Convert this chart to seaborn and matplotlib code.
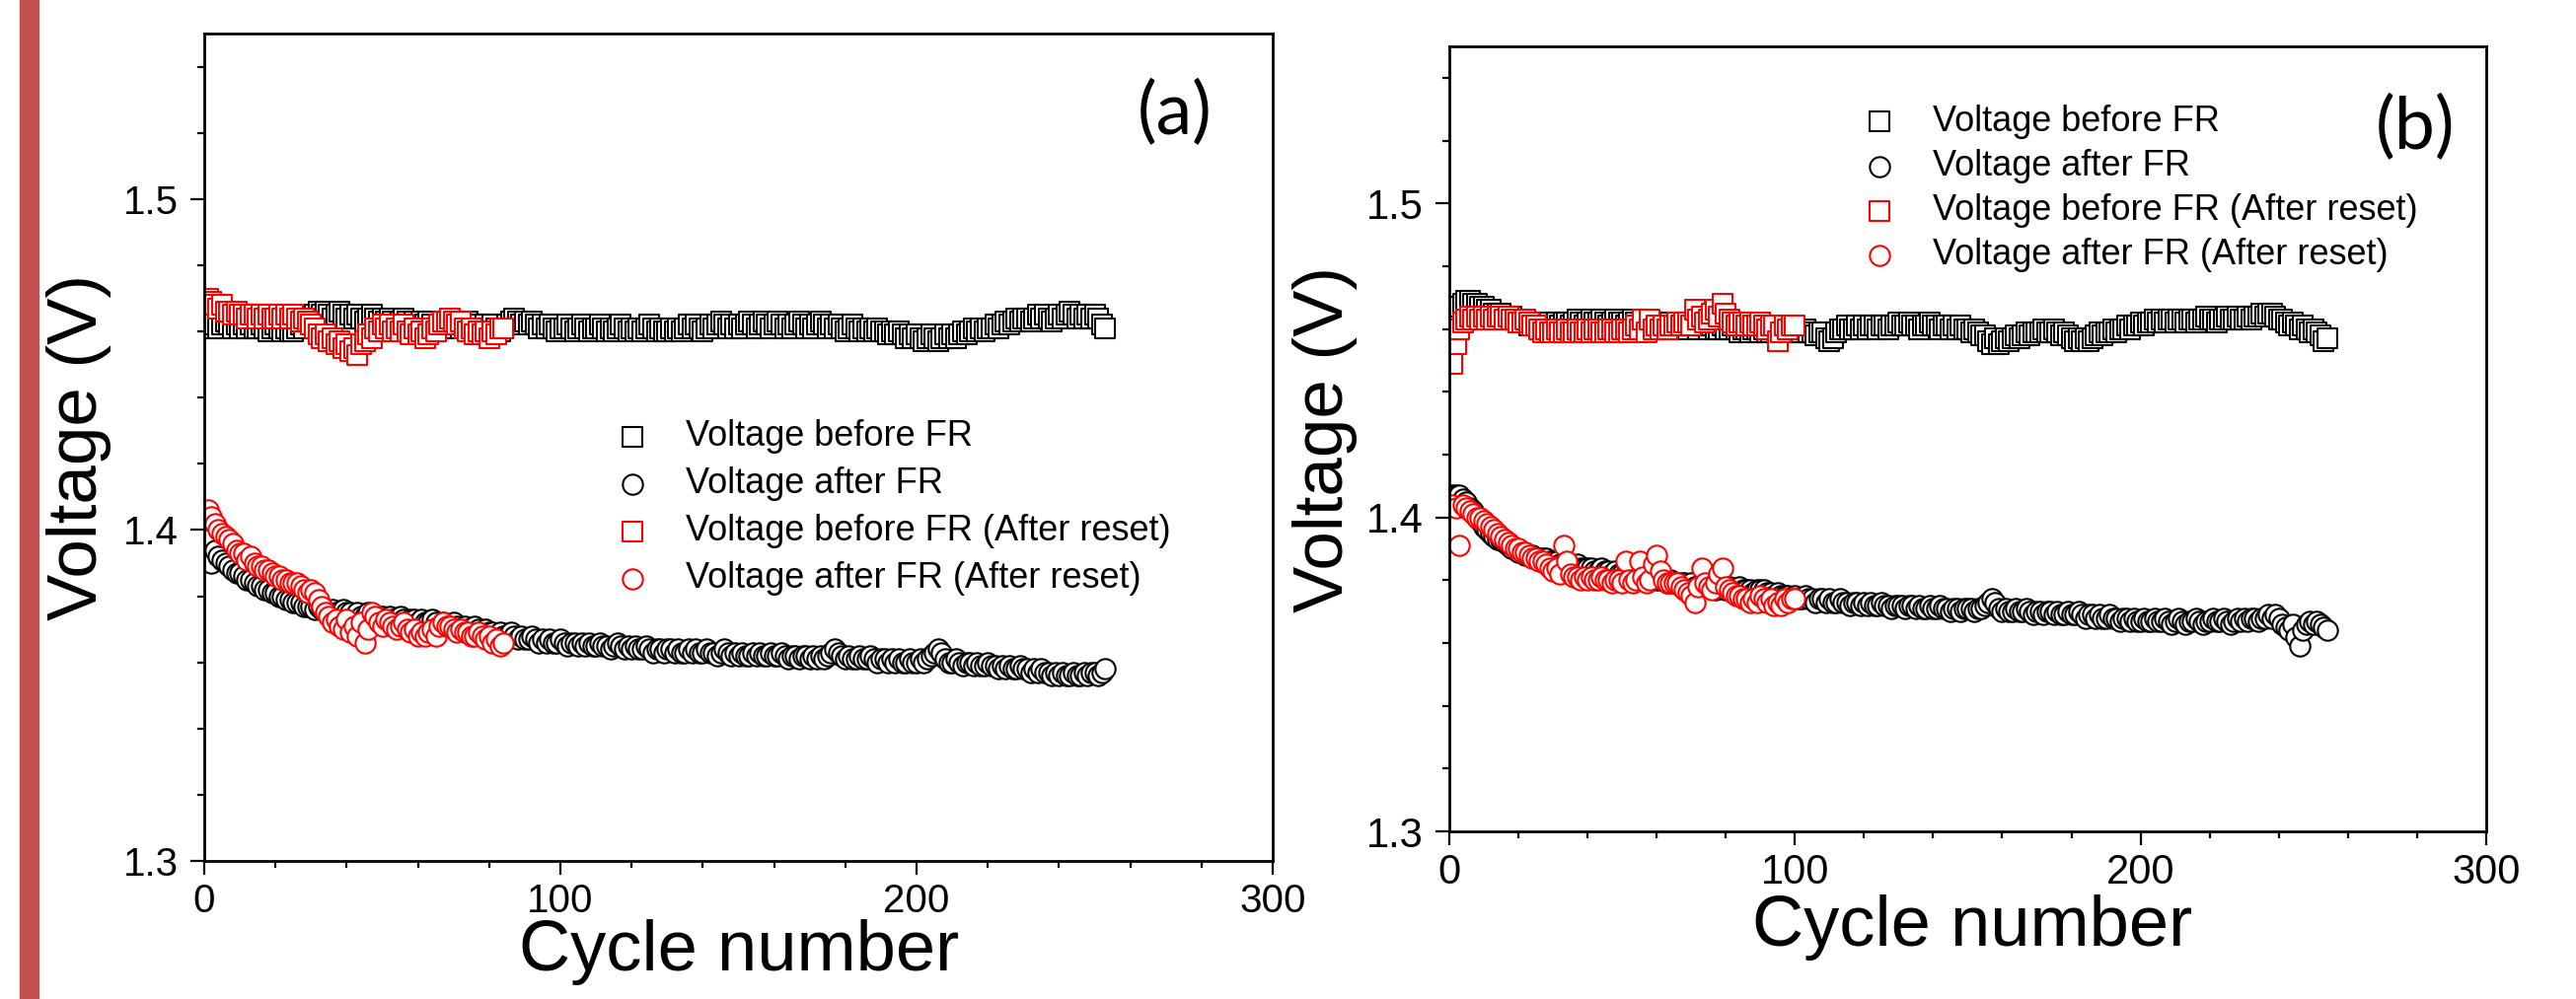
import numpy as np
import matplotlib
matplotlib.use("Agg")
import matplotlib.pyplot as plt
import seaborn as sns
from matplotlib.ticker import MultipleLocator

# ---- data (cycle number starts at 1) ----
# panel (a)
a_before = [
    1.461, 1.463, 1.462, 1.461, 1.462, 1.463, 1.462, 1.461, 1.462, 1.461,
    1.462, 1.461, 1.462, 1.461, 1.461, 1.462, 1.461, 1.460, 1.461, 1.462,
    1.461, 1.460, 1.461, 1.460, 1.460, 1.461, 1.462, 1.461, 1.463, 1.464,
    1.465, 1.466, 1.465, 1.466, 1.465, 1.464, 1.465, 1.466, 1.465, 1.464,
    1.465, 1.464, 1.465, 1.464, 1.463, 1.464, 1.465, 1.464, 1.463, 1.464,
    1.463, 1.464, 1.463, 1.462, 1.463, 1.464, 1.463, 1.462, 1.463, 1.462,
    1.463, 1.462, 1.463, 1.462, 1.461, 1.462, 1.463, 1.462, 1.461, 1.462,
    1.462, 1.461, 1.462, 1.463, 1.462, 1.461, 1.462, 1.461, 1.462, 1.461,
    1.462, 1.461, 1.460, 1.461, 1.462, 1.463, 1.464, 1.463, 1.462, 1.463,
    1.462, 1.463, 1.462, 1.461, 1.462, 1.461, 1.462, 1.461, 1.460, 1.461,
    1.461, 1.462, 1.461, 1.460, 1.461, 1.462, 1.461, 1.460, 1.461, 1.461,
    1.462, 1.461, 1.460, 1.461, 1.460, 1.461, 1.462, 1.461, 1.460, 1.461,
    1.460, 1.461, 1.460, 1.461, 1.462, 1.461, 1.460, 1.461, 1.460, 1.460,
    1.461, 1.460, 1.461, 1.460, 1.461, 1.462, 1.461, 1.462, 1.461, 1.460,
    1.461, 1.462, 1.461, 1.462, 1.463, 1.462, 1.461, 1.462, 1.461, 1.462,
    1.461, 1.462, 1.463, 1.462, 1.461, 1.462, 1.463, 1.462, 1.461, 1.462,
    1.463, 1.462, 1.461, 1.462, 1.461, 1.462, 1.463, 1.462, 1.461, 1.462,
    1.461, 1.462, 1.463, 1.462, 1.461, 1.462, 1.461, 1.462, 1.461, 1.460,
    1.461, 1.462, 1.461, 1.460, 1.461, 1.460, 1.461, 1.460, 1.461, 1.460,
    1.460, 1.459, 1.460, 1.459, 1.460, 1.459, 1.458, 1.459, 1.458, 1.459,
    1.458, 1.457, 1.458, 1.459, 1.458, 1.457, 1.458, 1.459, 1.458, 1.459,
    1.458, 1.459, 1.460, 1.459, 1.460, 1.461, 1.460, 1.461, 1.460, 1.461,
    1.461, 1.462, 1.461, 1.462, 1.463, 1.462, 1.463, 1.464, 1.463, 1.464,
    1.464, 1.463, 1.464, 1.465, 1.464, 1.465, 1.464, 1.463, 1.464, 1.465,
    1.464, 1.465, 1.466, 1.465, 1.464, 1.465, 1.464, 1.465, 1.464, 1.465,
    1.464, 1.462, 1.461,
]
a_after = [
    1.397, 1.390, 1.394, 1.392, 1.391, 1.390, 1.389, 1.388, 1.387, 1.387,
    1.386, 1.385, 1.385, 1.384, 1.383, 1.383, 1.382, 1.382, 1.381, 1.381,
    1.380, 1.380, 1.379, 1.379, 1.378, 1.378, 1.378, 1.377, 1.377, 1.377,
    1.376, 1.377, 1.376, 1.376, 1.375, 1.376, 1.375, 1.375, 1.376, 1.375,
    1.375, 1.374, 1.375, 1.374, 1.374, 1.375, 1.374, 1.373, 1.374, 1.374,
    1.373, 1.374, 1.373, 1.373, 1.374, 1.373, 1.372, 1.373, 1.373, 1.372,
    1.373, 1.372, 1.372, 1.373, 1.372, 1.371, 1.372, 1.371, 1.371, 1.372,
    1.371, 1.370, 1.371, 1.370, 1.370, 1.371, 1.370, 1.369, 1.370, 1.369,
    1.369, 1.368, 1.369, 1.368, 1.368, 1.369, 1.368, 1.367, 1.368, 1.367,
    1.367, 1.368, 1.367, 1.366, 1.367, 1.366, 1.367, 1.366, 1.366, 1.367,
    1.366, 1.365, 1.366, 1.366, 1.365, 1.366, 1.365, 1.366, 1.365, 1.365,
    1.366, 1.365, 1.365, 1.364, 1.365, 1.366, 1.365, 1.364, 1.365, 1.364,
    1.365, 1.364, 1.364, 1.365, 1.364, 1.363, 1.364, 1.364, 1.363, 1.364,
    1.364, 1.363, 1.364, 1.363, 1.363, 1.364, 1.363, 1.364, 1.363, 1.363,
    1.364, 1.363, 1.363, 1.362, 1.363, 1.364, 1.363, 1.362, 1.363, 1.362,
    1.363, 1.362, 1.362, 1.363, 1.362, 1.363, 1.362, 1.362, 1.363, 1.362,
    1.362, 1.363, 1.362, 1.361, 1.362, 1.362, 1.361, 1.362, 1.362, 1.361,
    1.362, 1.361, 1.362, 1.361, 1.362, 1.363, 1.364, 1.363, 1.362, 1.361,
    1.362, 1.361, 1.361, 1.362, 1.361, 1.361, 1.362, 1.361, 1.360, 1.361,
    1.361, 1.360, 1.361, 1.360, 1.361, 1.360, 1.360, 1.361, 1.360, 1.360,
    1.361, 1.360, 1.361, 1.362, 1.363, 1.364, 1.363, 1.361, 1.360, 1.360,
    1.361, 1.360, 1.359, 1.360, 1.360, 1.359, 1.360, 1.359, 1.359, 1.360,
    1.359, 1.359, 1.358, 1.359, 1.358, 1.359, 1.358, 1.358, 1.359, 1.358,
    1.358, 1.357, 1.358, 1.357, 1.358, 1.357, 1.357, 1.356, 1.357, 1.356,
    1.357, 1.356, 1.356, 1.357, 1.356, 1.356, 1.357, 1.356, 1.357, 1.357,
    1.356, 1.357, 1.358,
]
a_reset_before = [
    1.470, 1.469, 1.468, 1.467, 1.468, 1.466, 1.466, 1.465, 1.466, 1.465,
    1.465, 1.464, 1.465, 1.465, 1.464, 1.465, 1.464, 1.465, 1.464, 1.464,
    1.465, 1.464, 1.465, 1.464, 1.465, 1.464, 1.463, 1.464, 1.463, 1.462,
    1.461, 1.459, 1.458, 1.459, 1.457, 1.458, 1.456, 1.457, 1.455, 1.456,
    1.454, 1.455, 1.453, 1.456, 1.457, 1.459, 1.458, 1.461, 1.460, 1.462,
    1.461, 1.462, 1.460, 1.461, 1.460, 1.462, 1.460, 1.459, 1.461, 1.459,
    1.460, 1.458, 1.459, 1.461, 1.460, 1.462, 1.463, 1.463, 1.464, 1.463,
    1.462, 1.463, 1.461, 1.460, 1.461, 1.459, 1.460, 1.459, 1.460, 1.458,
    1.460, 1.459, 1.461, 1.461,
]
a_reset_after = [
    1.406, 1.404, 1.402, 1.400, 1.399, 1.398, 1.397, 1.396, 1.394, 1.393,
    1.393, 1.391, 1.392, 1.390, 1.389, 1.389, 1.388, 1.388, 1.387, 1.386,
    1.386, 1.385, 1.385, 1.384, 1.384, 1.384, 1.383, 1.382, 1.381, 1.382,
    1.381, 1.379, 1.377, 1.375, 1.374, 1.372, 1.373, 1.371, 1.370, 1.373,
    1.369, 1.371, 1.368, 1.372, 1.366, 1.370, 1.375, 1.374, 1.372, 1.371,
    1.373, 1.372, 1.371, 1.370, 1.371, 1.372, 1.370, 1.369, 1.370, 1.368,
    1.369, 1.368, 1.369, 1.370, 1.368, 1.371, 1.372, 1.371, 1.371, 1.370,
    1.369, 1.370, 1.369, 1.369, 1.368, 1.368, 1.369, 1.368, 1.367, 1.368,
    1.366, 1.367, 1.365, 1.366,
]

# panel (b)
b_before = [
    1.464, 1.466, 1.467, 1.468, 1.469, 1.469, 1.468, 1.468, 1.467, 1.467,
    1.466, 1.466, 1.465, 1.465, 1.465, 1.464, 1.464, 1.464, 1.463, 1.463,
    1.462, 1.462, 1.461, 1.462, 1.461, 1.461, 1.462, 1.461, 1.462, 1.461,
    1.462, 1.461, 1.462, 1.462, 1.461, 1.462, 1.463, 1.462, 1.461, 1.462,
    1.463, 1.462, 1.462, 1.463, 1.462, 1.461, 1.462, 1.463, 1.462, 1.462,
    1.461, 1.462, 1.463, 1.462, 1.461, 1.462, 1.462, 1.461, 1.462, 1.461,
    1.462, 1.461, 1.461, 1.462, 1.461, 1.461, 1.462, 1.461, 1.460, 1.461,
    1.461, 1.460, 1.461, 1.461, 1.460, 1.461, 1.460, 1.460, 1.461, 1.460,
    1.460, 1.461, 1.460, 1.459, 1.460, 1.460, 1.459, 1.460, 1.460, 1.459,
    1.460, 1.459, 1.459, 1.460, 1.459, 1.460, 1.459, 1.459, 1.460, 1.459,
    1.459, 1.459, 1.460, 1.459, 1.459, 1.458, 1.459, 1.459, 1.457, 1.456,
    1.457, 1.459, 1.460, 1.460, 1.461, 1.460, 1.460, 1.461, 1.460, 1.461,
    1.460, 1.461, 1.461, 1.460, 1.461, 1.461, 1.460, 1.461, 1.461, 1.462,
    1.461, 1.461, 1.462, 1.461, 1.461, 1.460, 1.461, 1.461, 1.462, 1.461,
    1.461, 1.460, 1.461, 1.461, 1.460, 1.461, 1.460, 1.461, 1.460, 1.460,
    1.459, 1.460, 1.459, 1.458, 1.458, 1.456, 1.455, 1.457, 1.455, 1.456,
    1.457, 1.456, 1.457, 1.458, 1.457, 1.458, 1.459, 1.458, 1.459, 1.459,
    1.459, 1.460, 1.459, 1.459, 1.460, 1.459, 1.458, 1.459, 1.458, 1.457,
    1.456, 1.457, 1.456, 1.457, 1.456, 1.457, 1.458, 1.459, 1.458, 1.459,
    1.459, 1.460, 1.459, 1.460, 1.460, 1.461, 1.460, 1.461, 1.461, 1.462,
    1.461, 1.462, 1.462, 1.463, 1.462, 1.463, 1.462, 1.463, 1.463, 1.462,
    1.463, 1.463, 1.462, 1.463, 1.463, 1.462, 1.463, 1.463, 1.464, 1.463,
    1.463, 1.462, 1.463, 1.463, 1.464, 1.463, 1.463, 1.464, 1.463, 1.463,
    1.464, 1.463, 1.464, 1.464, 1.465, 1.464, 1.465, 1.465, 1.464, 1.463,
    1.463, 1.462, 1.461, 1.462, 1.461, 1.460, 1.461, 1.460, 1.459, 1.460,
    1.459, 1.458, 1.456, 1.457,
]
b_after = [
    1.407, 1.407, 1.407, 1.406, 1.405, 1.403, 1.402, 1.400, 1.399, 1.397,
    1.396, 1.395, 1.394, 1.393, 1.393, 1.392, 1.391, 1.390, 1.390, 1.389,
    1.389, 1.388, 1.388, 1.388, 1.387, 1.387, 1.387, 1.387, 1.386, 1.386,
    1.386, 1.385, 1.385, 1.385, 1.385, 1.384, 1.385, 1.384, 1.384, 1.384,
    1.384, 1.383, 1.383, 1.384, 1.383, 1.383, 1.382, 1.383, 1.382, 1.382,
    1.382, 1.382, 1.381, 1.382, 1.381, 1.381, 1.381, 1.380, 1.381, 1.380,
    1.380, 1.380, 1.379, 1.380, 1.379, 1.379, 1.379, 1.379, 1.378, 1.379,
    1.378, 1.378, 1.379, 1.378, 1.378, 1.378, 1.377, 1.378, 1.378, 1.377,
    1.378, 1.377, 1.377, 1.378, 1.377, 1.377, 1.377, 1.376, 1.377, 1.377,
    1.377, 1.376, 1.376, 1.375, 1.376, 1.375, 1.375, 1.375, 1.374, 1.375,
    1.374, 1.374, 1.375, 1.374, 1.374, 1.373, 1.374, 1.374, 1.373, 1.374,
    1.373, 1.373, 1.374, 1.373, 1.373, 1.372, 1.373, 1.373, 1.372, 1.373,
    1.372, 1.373, 1.372, 1.372, 1.373, 1.372, 1.372, 1.371, 1.372, 1.372,
    1.372, 1.371, 1.372, 1.372, 1.371, 1.372, 1.371, 1.371, 1.372, 1.371,
    1.371, 1.372, 1.371, 1.371, 1.370, 1.371, 1.371, 1.370, 1.371, 1.371,
    1.371, 1.370, 1.371, 1.371, 1.372, 1.373, 1.374, 1.373, 1.371, 1.370,
    1.371, 1.370, 1.370, 1.371, 1.370, 1.370, 1.371, 1.370, 1.369, 1.370,
    1.370, 1.369, 1.370, 1.370, 1.369, 1.370, 1.369, 1.369, 1.370, 1.369,
    1.369, 1.370, 1.369, 1.368, 1.369, 1.369, 1.368, 1.369, 1.368, 1.368,
    1.369, 1.368, 1.368, 1.367, 1.368, 1.368, 1.367, 1.368, 1.367, 1.367,
    1.368, 1.367, 1.367, 1.368, 1.367, 1.367, 1.368, 1.367, 1.366, 1.367,
    1.368, 1.367, 1.366, 1.367, 1.367, 1.368, 1.367, 1.366, 1.367, 1.367,
    1.368, 1.367, 1.367, 1.368, 1.367, 1.366, 1.367, 1.368, 1.367, 1.368,
    1.367, 1.368, 1.368, 1.367, 1.368, 1.368, 1.369, 1.368, 1.369, 1.368,
    1.366, 1.365, 1.364, 1.366, 1.362, 1.359, 1.364, 1.366, 1.367, 1.366,
    1.367, 1.366, 1.365, 1.364,
]
b_reset_before = [
    1.449, 1.455, 1.460, 1.462, 1.463, 1.464, 1.463, 1.464, 1.463, 1.464,
    1.463, 1.464, 1.463, 1.464, 1.464, 1.463, 1.464, 1.463, 1.463, 1.462,
    1.462, 1.463, 1.462, 1.461, 1.461, 1.460, 1.459, 1.460, 1.459, 1.459,
    1.460, 1.459, 1.459, 1.460, 1.459, 1.459, 1.460, 1.459, 1.459, 1.460,
    1.459, 1.460, 1.460, 1.459, 1.459, 1.460, 1.460, 1.459, 1.459, 1.460,
    1.460, 1.459, 1.460, 1.461, 1.460, 1.463, 1.459, 1.463, 1.460, 1.461,
    1.460, 1.461, 1.460, 1.461, 1.461, 1.462, 1.461, 1.462, 1.462, 1.461,
    1.466, 1.463, 1.464, 1.462, 1.463, 1.465, 1.466, 1.464, 1.468, 1.465,
    1.463, 1.462, 1.461, 1.462, 1.462, 1.461, 1.462, 1.461, 1.461, 1.462,
    1.461, 1.460, 1.461, 1.461, 1.456, 1.459, 1.461, 1.460, 1.461, 1.461,
]
b_reset_after = [
    1.404, 1.403, 1.391, 1.404, 1.403, 1.402, 1.401, 1.400, 1.400, 1.399,
    1.398, 1.397, 1.396, 1.395, 1.394, 1.393, 1.392, 1.391, 1.390, 1.390,
    1.389, 1.389, 1.388, 1.387, 1.387, 1.386, 1.386, 1.385, 1.384, 1.383,
    1.384, 1.382, 1.391, 1.386, 1.382, 1.381, 1.381, 1.380, 1.381, 1.380,
    1.381, 1.380, 1.380, 1.381, 1.380, 1.380, 1.379, 1.380, 1.380, 1.379,
    1.386, 1.380, 1.379, 1.380, 1.386, 1.381, 1.379, 1.380, 1.385, 1.388,
    1.383, 1.380, 1.379, 1.379, 1.379, 1.379, 1.378, 1.377, 1.376, 1.375,
    1.373, 1.378, 1.384, 1.379, 1.378, 1.377, 1.379, 1.382, 1.384, 1.378,
    1.377, 1.376, 1.375, 1.375, 1.374, 1.374, 1.373, 1.374, 1.373, 1.375,
    1.374, 1.373, 1.374, 1.372, 1.373, 1.372, 1.374, 1.373, 1.374, 1.374,
]

labels = ["Voltage before FR", "Voltage after FR",
          "Voltage before FR (After reset)", "Voltage after FR (After reset)"]

sns.set_style("ticks", {"axes.edgecolor": "black", "xtick.color": "black",
                        "ytick.color": "black", "text.color": "black",
                        "axes.labelcolor": "black"})
plt.rcParams["font.family"] = ["Liberation Sans", "DejaVu Sans"]

fig = plt.figure(figsize=(26.11, 10.13), dpi=100)
# red strip on the left edge
fig.patches.append(plt.Rectangle((20 / 2611, 0), 19 / 2611, 1,
                                 transform=fig.transFigure,
                                 color="#C0504D", zorder=0))

ax_a = fig.add_axes([0.0793, 0.1382, 0.4148, 0.8282])
ax_b = fig.add_axes([0.5626, 0.1678, 0.4025, 0.7858])


def draw_panel(ax, series, tick_size, legend_size, legend_xy, spacing,
               label_xy):
    styles = [("s", "black"), ("o", "black"), ("s", "red"), ("o", "red")]
    for vals, (mk, col), lab in zip(series, styles, labels):
        cyc = np.arange(1, len(vals) + 1)
        sns.scatterplot(x=cyc, y=vals, marker=mk, s=215, facecolor="white",
                        edgecolor=col, linewidth=1.5, label=lab, ax=ax)

    ax.set_xlim(0, 300)
    ax.set_ylim(1.3, 1.55)
    ax.xaxis.set_major_locator(MultipleLocator(100))
    ax.xaxis.set_minor_locator(MultipleLocator(20))
    ax.yaxis.set_major_locator(MultipleLocator(0.1))
    ax.yaxis.set_minor_locator(MultipleLocator(0.02))
    ax.tick_params(which="major", direction="out", length=10, width=1.6,
                   labelsize=tick_size, top=False, right=False)
    ax.tick_params(which="minor", direction="out", length=5, width=1.6,
                   top=False, right=False)
    ax.tick_params(axis="y", which="major", pad=9)
    ax.tick_params(axis="x", which="major", pad=6)
    for sp in ax.spines.values():
        sp.set_visible(True)
        sp.set_linewidth(2.0)

    ax.set_xlabel("Cycle number", fontsize=52)
    ax.set_ylabel("Voltage (V)", fontsize=51)
    ax.xaxis.set_label_coords(label_xy[0], label_xy[1])
    ax.yaxis.set_label_coords(label_xy[2], 0.5)

    ax.legend(loc="upper left", bbox_to_anchor=legend_xy, frameon=False,
              fontsize=legend_size, handlelength=1.0, handletextpad=1.0,
              labelspacing=spacing, borderpad=0, borderaxespad=0,
              scatterpoints=1)


draw_panel(ax_a, [a_before, a_after, a_reset_before, a_reset_after],
           29, 26, (0.384, 0.534), 0.36, (0.50, -0.070, -0.087))
draw_panel(ax_b, [b_before, b_after, b_reset_before, b_reset_after],
           30, 26, (0.398, 0.926), 0.28, (0.504, -0.080, -0.088))

ax_a.text(0.908, 0.903, "(a)", transform=ax_a.transAxes, ha="center",
          va="center", fontsize=53, family=["Lato", "DejaVu Sans"])
ax_b.text(0.932, 0.896, "(b)", transform=ax_b.transAxes, ha="center",
          va="center", fontsize=53, family=["Lato", "DejaVu Sans"])

fig.savefig("out.png", dpi=100)
